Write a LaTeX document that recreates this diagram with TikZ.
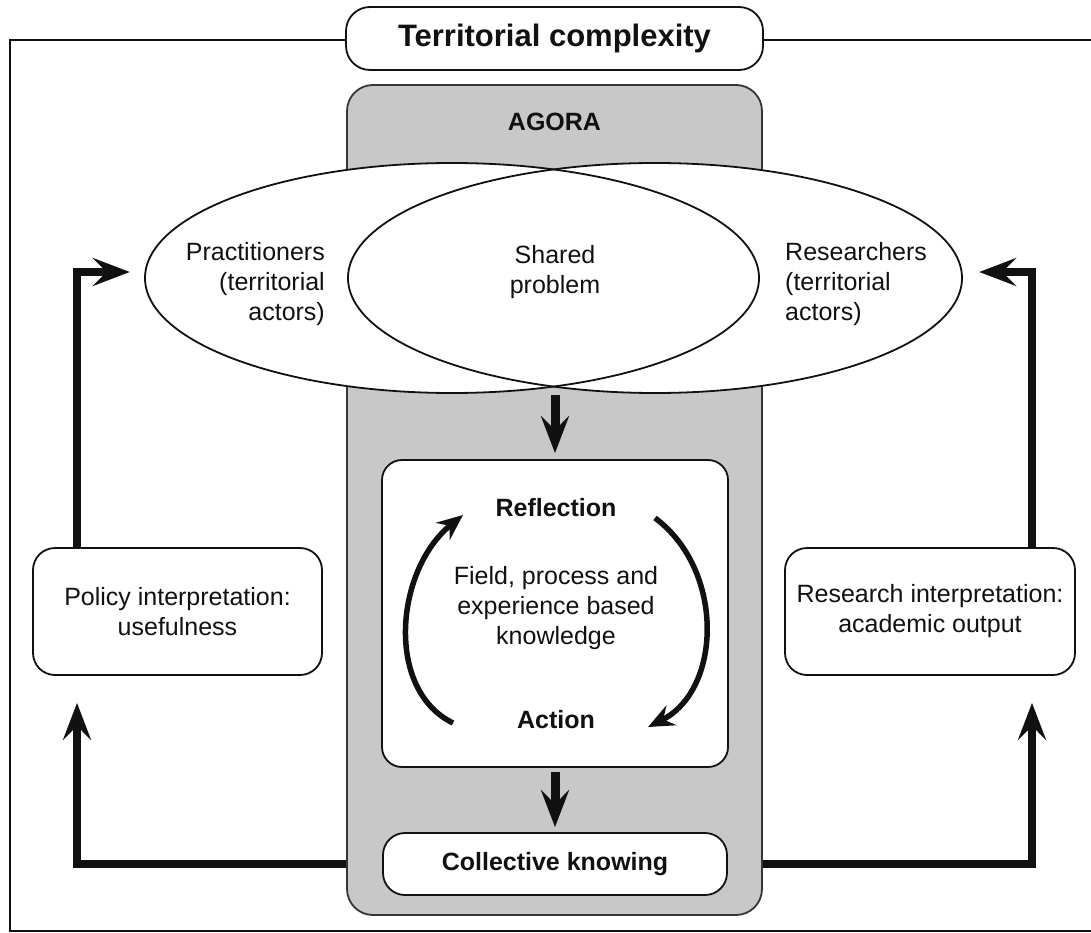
\documentclass[tikz,border=0pt]{standalone}
\usepackage{fontspec}
\setmainfont{Liberation Sans}
\usetikzlibrary{shapes.geometric,arrows.meta}
\definecolor{agoragray}{HTML}{C8C8C8}
\definecolor{ink}{HTML}{111111}

\begin{document}
\begin{tikzpicture}[x=1pt,y=-1pt,
  every node/.style={font=\fontsize{25}{30}\selectfont, text=ink, inner sep=0pt},
  bold/.style={font=\fontsize{25}{30}\selectfont\bfseries},
  frameline/.style={draw=ink, line width=2.5pt},
  whitebox/.style={draw=ink, fill=white, line width=1.8pt, rounded corners=22pt, align=center},
  agorabox/.style={draw=ink!85, fill=agoragray, line width=1.8pt, rounded corners=26pt},
  bubble/.style={ellipse, fill=white, minimum width=614pt, minimum height=230pt},
  bubbleline/.style={draw=ink, line width=1.8pt},
  bigarrow/.style={draw=ink, line width=8pt, -{Stealth[length=37pt, width=28pt, inset=14pt]}},
  cyclearrow/.style={draw=ink, line width=5.5pt, -{Stealth[length=26pt, width=22pt, inset=9pt]}},
]
\useasboundingbox (0,0) rectangle (1091,933);

% outer frame of the territory
\draw[frameline] (1091,40) -- (10,40) -- (10,931) -- (1091,931);
\node[whitebox, font=\fontsize{31}{36}\selectfont\bfseries, rounded corners=24pt,
      minimum width=417pt, minimum height=63pt] (title) at (554.5,38.5) {Territorial complexity};

% the agora
\node[agorabox, minimum width=415pt, minimum height=830pt] (agora) at (554.5,500) {};
\node[bold] (agoralabel) at (554.5,122) {AGORA};

% the two overlapping groups of actors
\node[bubble] (pe) at (452,278) {};
\node[bubble] (re) at (655,278) {};
\draw[bubbleline] (pe.center) ellipse [x radius=307pt, y radius=115pt];
\draw[bubbleline] (re.center) ellipse [x radius=307pt, y radius=115pt];
\node[align=right, anchor=east] (ptext) at (325,284) {Practitioners\\(territorial\\actors)};
\node[align=left, anchor=west] (rtext) at (785,284) {Researchers\\(territorial\\actors)};
\node[align=center] (shared) at (555,272) {Shared\\problem};

% knowledge cycle
\node[whitebox, rounded corners=20pt, minimum width=346pt, minimum height=307pt] (inner) at (555,613.5) {};
\node[bold] (reflection) at (556,508) {Reflection};
\node[align=center] (field) at (556,608) {Field, process and\\experience based\\knowledge};
\node[bold] (action) at (556,720) {Action};
\draw[cyclearrow] (453,723) .. controls (385,690) and (395,570) .. (463,515);
\draw[cyclearrow] (655,518) .. controls (725,570) and (722,690) .. (648,727);

\node[whitebox, bold, minimum width=344pt, minimum height=62pt] (ck) at (555,864) {Collective knowing};

% interpretation boxes
\node[whitebox, minimum width=289pt, minimum height=127pt] (policy) at (177.5,611.5) {Policy interpretation:\\usefulness};
\node[whitebox, minimum width=290pt, minimum height=127pt] (research) at (930,611.5) {Research interpretation:\\academic output};

% flows
\coordinate (lensbot) at (555,395);
\coordinate (lx) at (77,0);
\coordinate (rx) at (1032,0);
\draw[bigarrow, line width=9pt, shorten >=6pt] (lensbot) -- (inner.north);
\draw[bigarrow, line width=9pt, shorten <=4pt, shorten >=5pt] (inner.south) -- (ck.north);
\draw[bigarrow, shorten >=27pt] (agora.west |- ck.center) -| (policy.south -| lx);
\draw[bigarrow, shorten >=15pt] (policy.north -| lx) |- ([yshift=6pt]pe.west);
\draw[bigarrow, shorten >=27pt] (agora.east |- ck.center) -| (research.south -| rx);
\draw[bigarrow, shorten >=17pt] (research.north -| rx) |- ([yshift=6pt]re.east);
\end{tikzpicture}
\end{document}
